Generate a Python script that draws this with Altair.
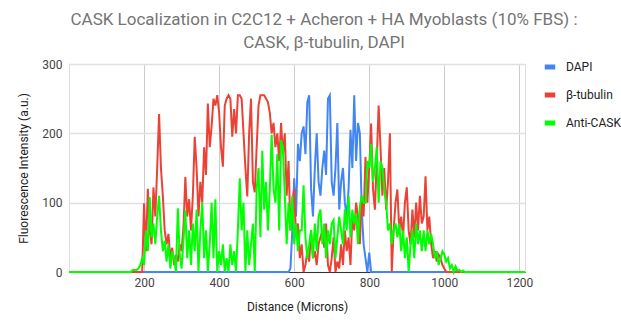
import altair as alt
import pandas as pd

series_names = ["DAPI", "β-tubulin", "Anti-CASK"]
series_colors = ["#4285F4", "#EA4335", "#00FF00"]
x_ticks = [200, 400, 600, 800, 1000, 1200]
y_ticks = [0, 100, 200, 300]
step = 5
x_min, x_max = 0, 1215

dapi_start = 585
dapi_values = [0, 5, 60, 135, 80, 185, 160, 200, 210, 170, 245, 255, 120, 80, 150,
               200, 130, 110, 150, 175, 140, 250, 255, 130, 110, 150, 215, 90, 130,
               150, 100, 80, 120, 205, 150, 255, 160, 215, 200, 90, 40, 20, 0, 28, 0]
dapi_tail_start = 1025
dapi_tail_values = [0, 7, 0]

tubulin_start = 190
tubulin_values = [0, 0, 99, 30, 120, 60, 40, 122, 80, 150, 228, 150, 110, 60, 40,
                  55, 20, 35, 10, 25, 15, 40, 30, 65, 137, 80, 105, 60, 110, 195,
                  150, 80, 130, 100, 180, 140, 243, 180, 210, 250, 240, 255, 230, 180,
                  152, 240, 250, 255, 250, 195, 235, 200, 255, 255, 250, 200, 150, 109,
                  200, 250, 130, 115, 180, 240, 255, 255, 255, 250, 245, 230, 200, 215,
                  180, 200, 160, 215, 170, 200, 110, 160, 60, 100, 120, 50, 70, 20,
                  40, 0, 10, 30, 15, 60, 20, 30, 10, 40, 50, 60, 35, 70, 10, 0, 20,
                  50, 0, 15, 5, 40, 10, 60, 30, 50, 10, 80, 60, 100, 80, 40, 110, 80,
                  166, 100, 150, 214, 120, 90, 160, 240, 180, 110, 150, 90, 130, 200,
                  0, 60, 100, 119, 60, 80, 50, 100, 122, 60, 40, 90, 50, 100, 60, 110,
                  70, 80, 138, 60, 80, 40, 20, 30, 15, 25, 20, 10, 5, 0]

cask_start = 165
cask_values = [0, 3, 3, 3, 5, 10, 20, 10, 60, 30, 108, 50, 70, 40, 80, 110, 60, 30,
               45, 15, 40, 5, 30, 20, 0, 92, 25, 5, 45, 89, 20, 60, 10, 70, 30, 90,
               0, 60, 100, 20, 60, 0, 40, 100, 20, 105, 0, 30, 10, 40, 0, 20, 0, 40,
               10, 30, 0, 60, 135, 60, 100, 0, 60, 10, 40, 70, 0, 120, 150, 50, 175,
               90, 130, 60, 120, 198, 120, 100, 170, 60, 190, 180, 110, 40, 100, 60,
               110, 40, 70, 30, 60, 60, 125, 50, 20, 40, 60, 20, 70, 30, 80, 90, 40,
               70, 20, 60, 40, 70, 75, 20, 50, 80, 60, 40, 90, 60, 110, 50, 90, 70,
               85, 40, 95, 110, 100, 100, 160, 150, 185, 130, 150, 180, 100, 160, 150,
               120, 100, 60, 70, 40, 60, 70, 50, 70, 30, 60, 20, 50, 0, 40, 60, 20,
               70, 40, 60, 30, 60, 30, 60, 40, 55, 40, 20, 30, 10, 20, 30, 25, 15,
               20, 5, 10, 0, 8, 2, 3, 0, 2, 0]


def build(name, segments):
    xs, ys = [x_min], [0]
    for start, vals in segments:
        for i, v in enumerate(vals):
            xs.append(start + step * i)
            ys.append(v)
    xs.append(x_max)
    ys.append(0)
    return pd.DataFrame({"Distance": xs, "Intensity": ys, "Series": name})


df = pd.concat([
    build("DAPI", [(dapi_start, dapi_values), (dapi_tail_start, dapi_tail_values)]),
    build("β-tubulin", [(tubulin_start, tubulin_values)]),
    build("Anti-CASK", [(cask_start, cask_values)]),
], ignore_index=True)

FONT = "Roboto"

color = alt.Color(
    "Series:N",
    scale=alt.Scale(domain=series_names, range=series_colors),
    legend=alt.Legend(
        title=None, orient="none", legendX=473, legendY=-5,
        symbolType="stroke", symbolStrokeWidth=5, symbolSize=110,
        labelFontSize=12, labelColor="#222222", labelFont=FONT,
        rowPadding=8, labelOffset=8,
    ),
)

x = alt.X(
    "Distance:Q",
    scale=alt.Scale(domain=[x_min, x_max], nice=False, zero=True),
    axis=alt.Axis(values=x_ticks, format="d", title="Distance (Microns)", grid=True,
                  gridColor="#cccccc", gridWidth=1, ticks=False,
                  domainColor="#333333", domainWidth=1,
                  labelFontSize=12, labelColor="#444444", labelFont=FONT,
                  labelPadding=5, titleFontSize=12, titleFontWeight="normal",
                  titleColor="#222222", titleFont=FONT, titlePadding=13),
)
y = alt.Y(
    "Intensity:Q",
    scale=alt.Scale(domain=[0, 300], nice=False),
    axis=alt.Axis(values=y_ticks, format="d", title="Fluorescence Intensity (a.u.)",
                  grid=True, gridColor="#e0e0e0", gridWidth=1.5, ticks=False,
                  domain=False, labelFontSize=12, labelColor="#444444",
                  labelFont=FONT, labelPadding=7, titleFontSize=12,
                  titleFontWeight="normal", titleColor="#222222", titleFont=FONT,
                  titlePadding=11),
)

layers = []
for name in series_names:
    layers.append(
        alt.Chart(df).transform_filter(alt.datum.Series == name)
        .mark_line(strokeWidth=2)
        .encode(x=x, y=y, color=color)
    )

chart = alt.layer(*layers).properties(
    width=456,
    height=208,
    autosize=alt.AutoSizeParams(type="none"),
    padding={"left": 69, "top": 64, "right": 96, "bottom": 57},
    title=alt.Title(
        text=["CASK Localization in C2C12 + Acheron + HA Myoblasts (10% FBS) :",
              "CASK, β-tubulin, DAPI"],
        font=FONT, fontSize=17, fontWeight="normal", color="#757575",
        anchor="middle", dx=27, offset=6, lineHeight=23,
    ),
).configure_view(stroke=None).configure(background="white")

chart.save("out.html", embed_options={"renderer": "svg", "actions": False})
